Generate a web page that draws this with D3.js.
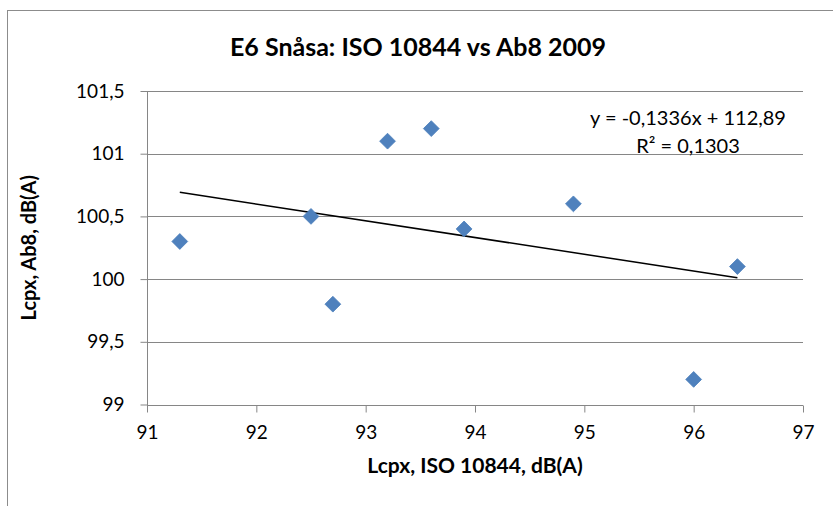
<!DOCTYPE html>
<html>
<head>
<meta charset="utf-8">
<script src="https://cdn.jsdelivr.net/npm/d3@7"></script>
<style>
  body { margin: 0; background: #fff; }
  svg { display: block; font-family: Lato, "Open Sans", sans-serif; }
</style>
</head>
<body>
<div id="chart"></div>
<script>
// measured points, Lcpx ISO 10844 vs Lcpx Ab8
const isoValues = [91.3, 92.5, 92.7, 93.2, 93.6, 93.9, 94.9, 96.0, 96.4];
const ab8Values = [100.3, 100.5, 99.8, 101.1, 101.2, 100.4, 100.6, 99.2, 100.1];
const xTicks = [91, 92, 93, 94, 95, 96, 97];
const yTicks = [99, 99.5, 100, 100.5, 101, 101.5];
const trendSlope = -0.1336;
const trendIntercept = 112.89;
const trendLabels = ["y = -0,1336x + 112,89", "R\u00b2 = 0,1303"];
const chartTitle = "E6 Sn\u00e5sa: ISO 10844 vs Ab8 2009";
const xTitle = "Lcpx, ISO 10844, dB(A)";
const yTitle = "Lcpx, Ab8, dB(A)";

document.addEventListener('DOMContentLoaded', function(){
    const w = 833, h = 506;
    const left = 147, right = 803, top = 91, bottom = 404.5;
    const grey = "#868686";
    const fmt = (v) => String(v).replace(".", ",");

    const svg = d3.select("#chart").append("svg")
        .attr("width", w)
        .attr("height", h);

    // chart area border (cropped on right and bottom)
    svg.append("rect")
        .attr("x", 7.5).attr("y", 10.5)
        .attr("width", 1000).attr("height", 1000)
        .attr("fill", "none")
        .attr("stroke", "#8c8c8c");

    const xScale = d3.scaleLinear().domain([91, 97]).range([left, right]);
    const yScale = d3.scaleLinear().domain([99, 101.5]).range([bottom, top]);

    // horizontal gridlines
    svg.append("g")
        .selectAll("line")
        .data(yTicks)
        .enter()
        .append("line")
        .attr("x1", left).attr("x2", right)
        .attr("y1", (d) => Math.round(yScale(d)) + 0.5)
        .attr("y2", (d) => Math.round(yScale(d)) + 0.5)
        .attr("stroke", grey);

    const xAxis = d3.axisBottom(xScale)
        .tickValues(xTicks)
        .tickSize(7)
        .tickPadding(13)
        .tickFormat(fmt);
    const yAxis = d3.axisLeft(yScale)
        .tickValues(yTicks)
        .tickSize(7)
        .tickPadding(16)
        .tickFormat(fmt);

    const gx = svg.append("g")
        .attr("transform", `translate(0, ${Math.round(bottom) + 0.5})`)
        .call(xAxis);
    const gy = svg.append("g")
        .attr("transform", `translate(${left + 0.5}, 0)`)
        .call(yAxis);

    [gx, gy].forEach((g) => {
        g.select(".domain").attr("stroke", grey);
        g.selectAll(".tick line").attr("stroke", grey);
        g.selectAll(".tick text")
            .attr("fill", "#000")
            .style("font-size", "19px")
            .style("font-family", "Lato, sans-serif");
    });
    gy.select(".domain").attr("d", `M0,${top}V${bottom + 7}`);
    gx.select(".domain").attr("d", `M${left},0H${right}`);

    // trendline
    const trendX = d3.extent(isoValues);
    svg.append("line")
        .attr("x1", xScale(trendX[0]))
        .attr("y1", yScale(trendSlope * trendX[0] + trendIntercept))
        .attr("x2", xScale(trendX[1]))
        .attr("y2", yScale(trendSlope * trendX[1] + trendIntercept))
        .attr("stroke", "#000")
        .attr("stroke-width", 1.5);

    // diamond markers
    const diamond = d3.symbol().type(d3.symbolSquare).size(125);
    svg.append("g")
        .selectAll("path")
        .data(isoValues.map((x, i) => [x, ab8Values[i]]))
        .enter()
        .append("path")
        .attr("d", diamond)
        .attr("transform", (d) => `translate(${xScale(d[0])}, ${yScale(d[1])}) rotate(45)`)
        .attr("fill", "#4f81bd")
        .attr("stroke", "#4a7ebb")
        .attr("stroke-width", 0.75);

    // trend equation
    svg.append("g")
        .selectAll("text")
        .data(trendLabels)
        .enter()
        .append("text")
        .attr("x", 688)
        .attr("y", (d, i) => 125 + i * 28)
        .attr("text-anchor", "middle")
        .style("font-size", "20px")
        .text((d) => d);

    // titles
    svg.append("text")
        .attr("x", 418).attr("y", 56)
        .attr("text-anchor", "middle")
        .style("font-size", "25px")
        .style("font-weight", "bold")
        .text(chartTitle);

    svg.append("text")
        .attr("x", (left + right) / 2).attr("y", 473)
        .attr("text-anchor", "middle")
        .style("font-size", "21px")
        .style("font-weight", "bold")
        .text(xTitle);

    svg.append("text")
        .attr("transform", `translate(36, ${(top + bottom) / 2}) rotate(-90)`)
        .attr("text-anchor", "middle")
        .style("font-size", "20px")
        .style("font-weight", "bold")
        .text(yTitle);
});
</script>
</body>
</html>
